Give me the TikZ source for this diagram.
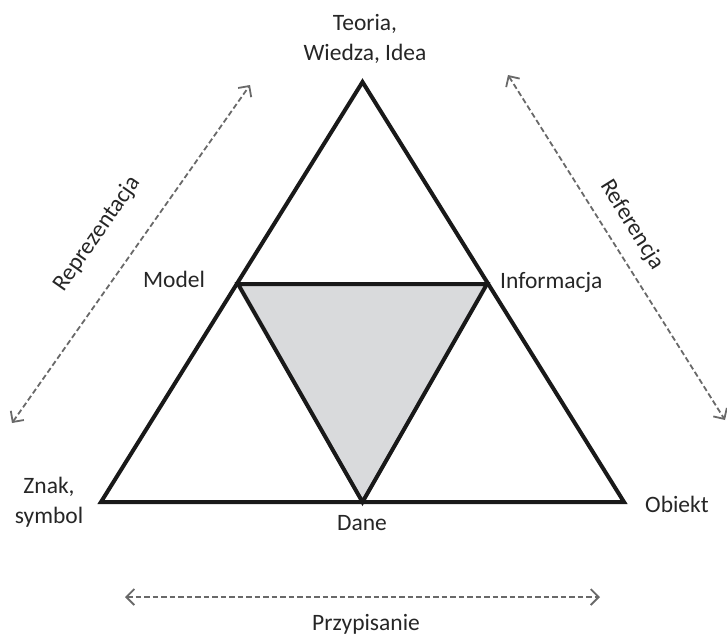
\documentclass[tikz,border=0pt]{standalone}
\usepackage{fontspec}
\setmainfont{Carlito}
\usetikzlibrary{arrows.meta}
\definecolor{txt}{RGB}{38,38,38}
\definecolor{arrowgray}{RGB}{105,105,105}
\definecolor{fillgray}{RGB}{217,218,220}
\tikzset{
  lbl/.style={inner sep=0pt, text=txt, font=\fontsize{23.5}{30}\selectfont},
  tri/.style={line width=4pt, line join=miter, draw=black!90},
  dblarrow/.style={draw=arrowgray, line width=1.8pt, dash pattern=on 5.5pt off 3pt,
    {Straight Barb[length=8pt,width=16pt,line width=1.8pt]}-{Straight Barb[length=8pt,width=16pt,line width=1.8pt]}}
}
\begin{document}
\begin{tikzpicture}[x=1pt,y=-1pt]
\useasboundingbox (0,0) rectangle (727,638);
% outer triangle vertices
\coordinate (T) at (362.5,82);
\coordinate (L) at (101,502);
\coordinate (R) at (624,502);
% inner triangle vertices
\coordinate (ML) at (238,284);
\coordinate (MR) at (487,284);
\coordinate (MB) at (362.5,502);
\fill[fillgray] (ML) -- (MR) -- (MB) -- cycle;
\draw[tri] (T) -- (R) -- (L) -- cycle;
\draw[tri] (ML) -- (MR) -- (MB) -- cycle;
% arrows
\coordinate (A1) at (12,423);
\coordinate (A2) at (250,85);
\coordinate (B1) at (508,75);
\coordinate (B2) at (725,420);
\coordinate (C1) at (125,597);
\coordinate (C2) at (600,597);
\draw[dblarrow] (A1) -- (A2);
\draw[dblarrow] (B1) -- (B2);
\draw[dblarrow] (C1) -- (C2);
% labels
\node[lbl, anchor=north, align=center] (teoria) at (365,14) {Teoria,\\Wiedza, Idea};
\node[lbl, anchor=base] (model) at (174,287) {Model};
\node[lbl, anchor=base west] (info) at (500,288) {Informacja};
\node[lbl, anchor=north, align=center] (znak) at (49,477) {Znak,\\symbol};
\node[lbl, anchor=base west] (obiekt) at (645,512) {Obiekt};
\node[lbl, anchor=base] (dane) at (362,530) {Dane};
\node[lbl, anchor=base] (przyp) at (366,630) {Przypisanie};
\node[lbl, rotate=55] (repr) at (97,234) {Reprezentacja};
\node[lbl, rotate=-58] (ref) at (632,225) {Referencja};
\end{tikzpicture}
\end{document}
